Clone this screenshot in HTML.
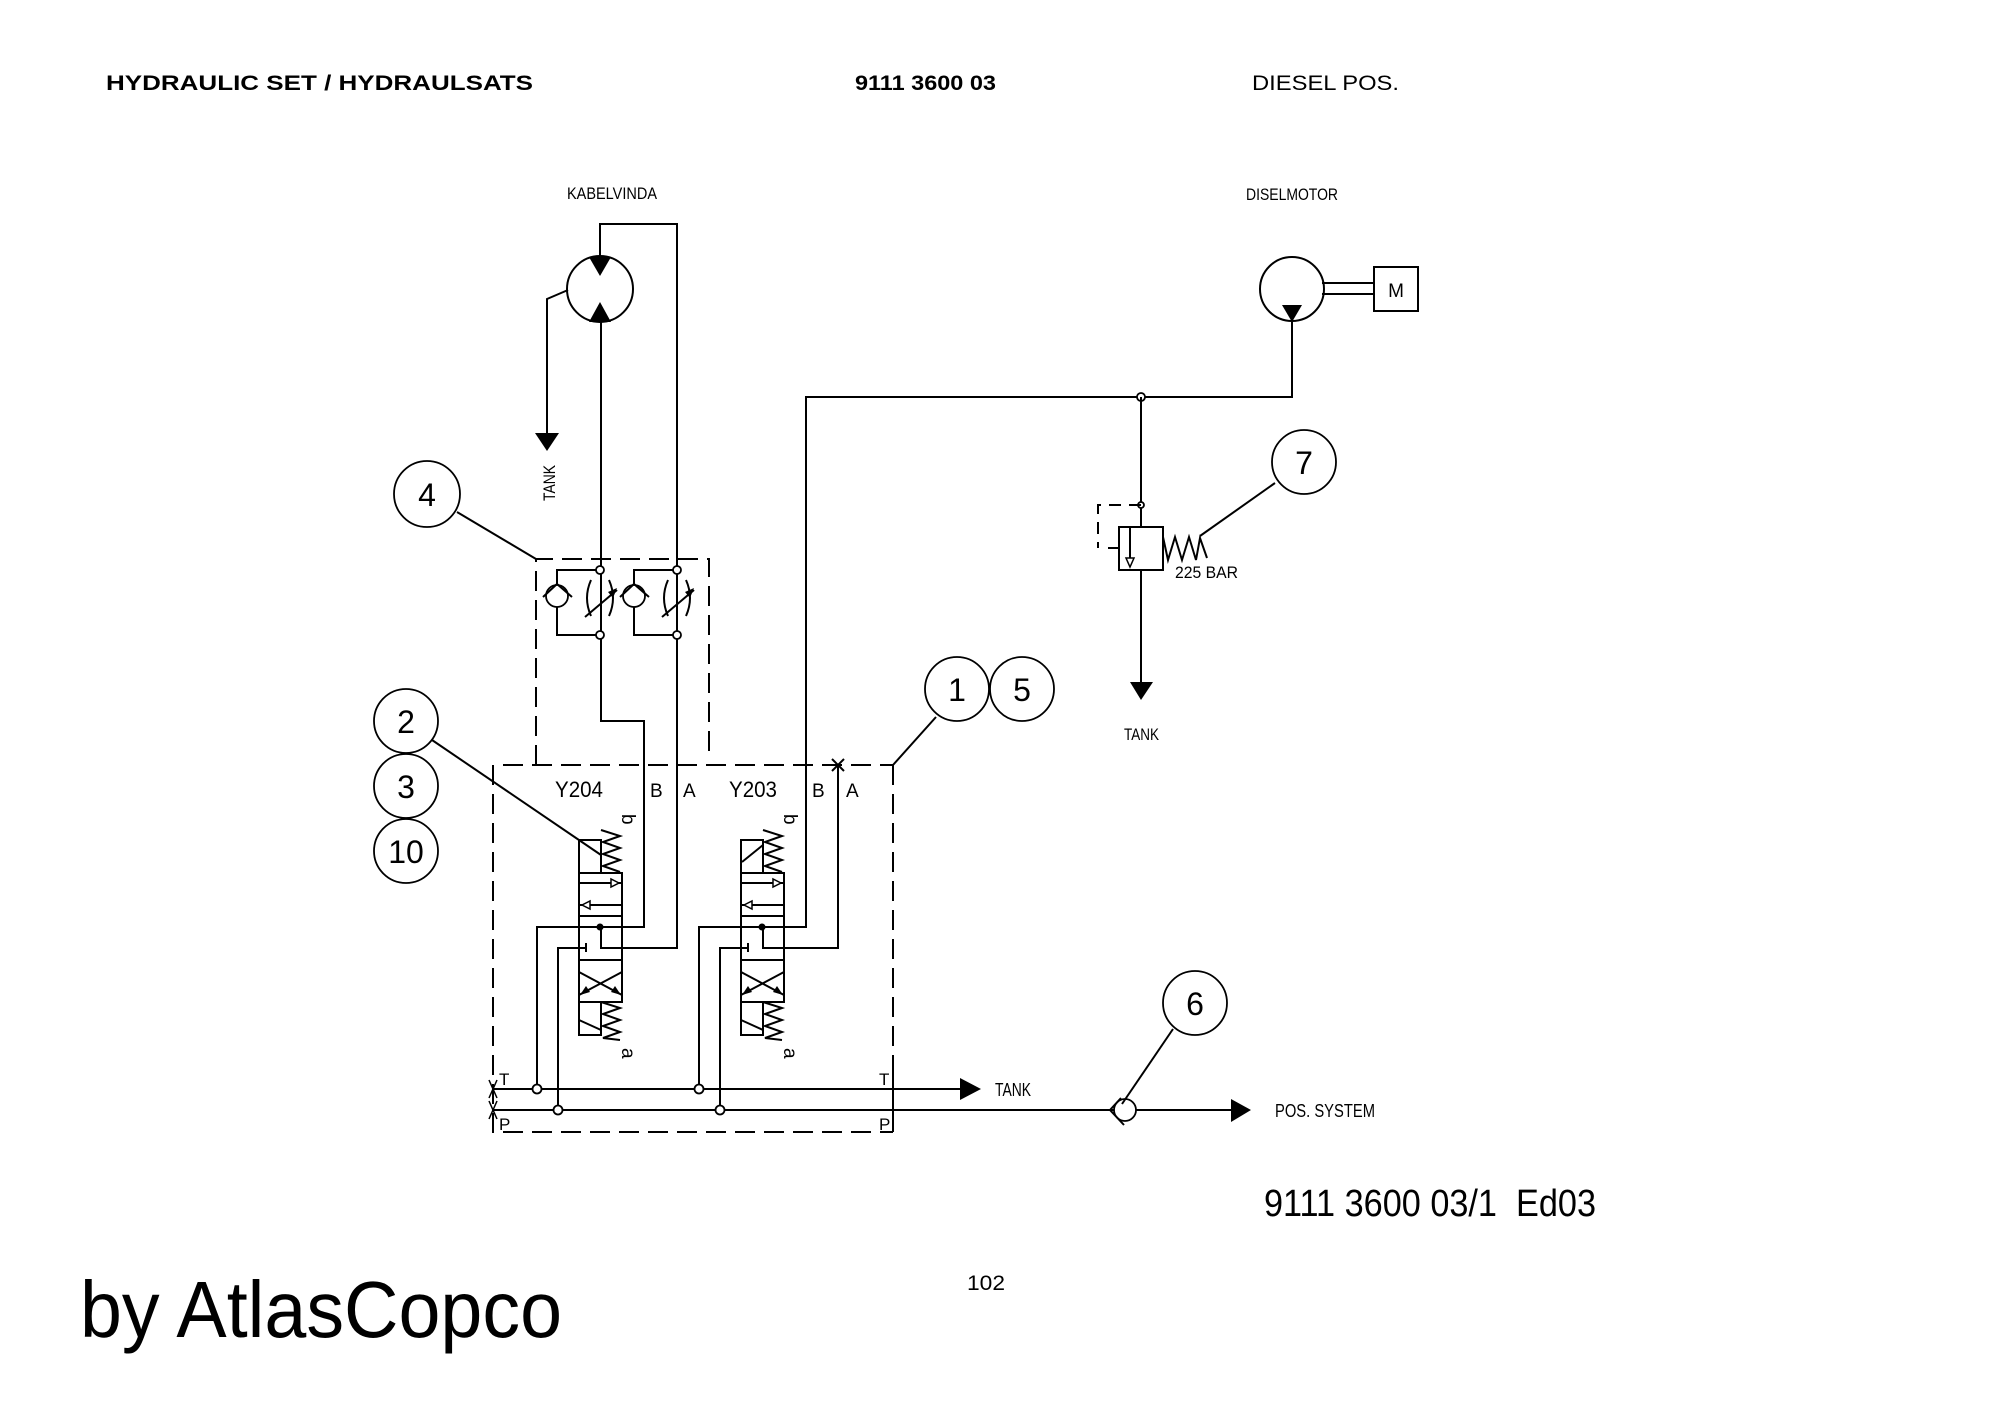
<!DOCTYPE html>
<html><head><meta charset="utf-8"><style>
html,body{margin:0;padding:0;background:#fff;}
svg{display:block;}
.l{fill:none;stroke:#000;stroke-width:2;}
.d{fill:none;stroke:#000;stroke-width:2;stroke-dasharray:20 9;}
.c{fill:#fff;stroke:#000;stroke-width:1.8;}
.t{font-family:"Liberation Sans Narrow","Liberation Sans",sans-serif;fill:#000;}
.h{font-family:"Liberation Sans",sans-serif;fill:#000;}
</style></head><body>
<svg width="2000" height="1415" viewBox="0 0 2000 1415" xmlns="http://www.w3.org/2000/svg">
<!-- Header -->
<text class="h" x="106" y="90" font-size="21" font-weight="bold" textLength="427" lengthAdjust="spacingAndGlyphs">HYDRAULIC SET / HYDRAULSATS</text>
<text class="h" x="855" y="90" font-size="21" font-weight="bold" textLength="141" lengthAdjust="spacingAndGlyphs">9111 3600 03</text>
<text class="h" x="1252" y="90" font-size="21" textLength="147" lengthAdjust="spacingAndGlyphs">DIESEL POS.</text>

<!-- KABELVINDA motor -->
<text class="t" x="567" y="199" font-size="17" textLength="90" lengthAdjust="spacingAndGlyphs">KABELVINDA</text>
<circle class="l" cx="600" cy="289" r="33"/>
<polygon points="589,257 611,257 600,276" fill="#000"/>
<polygon points="589,322 611,322 600,302" fill="#000"/>
<polyline class="l" points="600,257 600,224 677,224 677,948 601,948 601,927"/>
<polyline class="l" points="568,290 547,299 547,434"/>
<polygon points="535,433 559,433 547,451" fill="#000"/>
<text class="t" transform="translate(555,501) rotate(-90)" font-size="17" textLength="36" lengthAdjust="spacingAndGlyphs">TANK</text>

<!-- circle 4 -->
<circle class="c" cx="427" cy="494" r="33"/>
<text class="t" x="427" y="506" font-size="32" text-anchor="middle">4</text>
<line class="l" x1="457" y1="512" x2="536" y2="559"/>
<!-- box 4 -->
<polyline class="d" points="536,765 536,559 709,559 709,753"/>
<!-- check valves & throttles -->
<g>
<polyline class="l" points="600,570 557,570 557,635 600,635"/>
<circle class="c" cx="557" cy="596" r="11"/>
<polyline class="l" points="543,597 557,584 572,597"/>
<path class="l" d="M591,580 Q583,598 591,616"/>
<path class="l" d="M609,580 Q617,598 609,616"/>
<line class="l" x1="585" y1="617" x2="617" y2="590"/>
<polygon points="617,588 608,592 613,598" fill="#000"/>
</g>
<g transform="translate(77,0)">
<polyline class="l" points="600,570 557,570 557,635 600,635"/>
<circle class="c" cx="557" cy="596" r="11"/>
<polyline class="l" points="543,597 557,584 572,597"/>
<path class="l" d="M591,580 Q583,598 591,616"/>
<path class="l" d="M609,580 Q617,598 609,616"/>
<line class="l" x1="585" y1="617" x2="617" y2="590"/>
<polygon points="617,588 608,592 613,598" fill="#000"/>
</g>
<!-- B line Y204 -->
<polyline class="l" points="601,322 601,721 644,721 644,927 537,927 537,1088"/>
<circle class="c" cx="600" cy="570" r="4"/><circle class="c" cx="600" cy="635" r="4"/>
<circle class="c" cx="677" cy="570" r="4"/><circle class="c" cx="677" cy="635" r="4"/>

<!-- main box 1/5 -->
<polyline class="d" points="503,765 893,765"/>
<polyline class="d" points="493,765 493,1132 893,1132"/>
<line class="d" x1="893" y1="765" x2="893" y2="1132"/>
<line class="l" x1="893" y1="765" x2="936" y2="717"/>
<line class="l" x1="893" y1="1070" x2="893" y2="1132"/>
<circle class="c" cx="957" cy="689" r="32"/>
<text class="t" x="957" y="701" font-size="32" text-anchor="middle">1</text>
<circle class="c" cx="1022" cy="689" r="32"/>
<text class="t" x="1022" y="701" font-size="32" text-anchor="middle">5</text>

<!-- circles 2 3 10 -->
<circle class="c" cx="406" cy="721" r="32"/>
<text class="t" x="406" y="733" font-size="32" text-anchor="middle">2</text>
<circle class="c" cx="406" cy="786" r="32"/>
<text class="t" x="406" y="798" font-size="32" text-anchor="middle">3</text>
<circle class="c" cx="406" cy="851" r="32"/>
<text class="t" x="406" y="863" font-size="32" text-anchor="middle">10</text>
<line class="l" x1="432" y1="740" x2="601" y2="855"/>

<!-- labels -->
<text class="t" x="555" y="797" font-size="22" textLength="48" lengthAdjust="spacingAndGlyphs">Y204</text>
<text class="t" x="650" y="797" font-size="19">B</text>
<text class="t" x="683" y="797" font-size="19">A</text>
<text class="t" x="729" y="797" font-size="22" textLength="48" lengthAdjust="spacingAndGlyphs">Y203</text>
<text class="t" x="812" y="797" font-size="19">B</text>
<text class="t" x="846" y="797" font-size="19">A</text>

<!-- valves -->
<g id="v">
<rect class="l" x="579" y="840" width="22" height="33"/>
<polyline class="l" points="601,830 620,836 603,842 620,848 603,854 620,860 603,866 620,872"/>
<rect class="l" x="579" y="873" width="43" height="129"/>
<line class="l" x1="579" y1="883" x2="622" y2="883"/>
<polygon points="619,883 611,879 611,887" fill="#fff" stroke="#000" stroke-width="1.5"/>
<line class="l" x1="579" y1="905" x2="622" y2="905"/>
<polygon points="582,905 590,901 590,909" fill="#fff" stroke="#000" stroke-width="1.5"/>
<line class="l" x1="579" y1="916" x2="622" y2="916"/>
<line class="l" x1="579" y1="960" x2="622" y2="960"/>
<line class="l" x1="579" y1="972" x2="622" y2="995"/>
<line class="l" x1="622" y1="972" x2="579" y2="995"/>
<polygon points="580,995 586,986 590,992" fill="#000"/>
<polygon points="621,995 615,986 611,992" fill="#000"/>
<circle cx="600" cy="927" r="3.5" fill="#000"/>
<line class="l" x1="586" y1="943" x2="586" y2="952"/>
<rect class="l" x="579" y="1002" width="22" height="33"/>
<line class="l" x1="579" y1="1020" x2="601" y2="1030"/>
<polyline class="l" points="601,1002 620,1008 603,1014 620,1020 603,1026 620,1032 603,1038 620,1040"/>
<text class="t" transform="translate(622,814) rotate(90)" font-size="19">b</text>
<text class="t" transform="translate(622,1048) rotate(90)" font-size="19">a</text>
</g>
<use href="#v" transform="translate(162,0)"/>
<line class="l" x1="742" y1="862" x2="763" y2="845"/>

<!-- Y204 P -->
<polyline class="l" points="558,1111 558,948 586,948"/>
<!-- Y203 -->
<polyline class="l" points="1292,322 1292,397 806,397 806,927 699,927 699,1088"/>
<polyline class="l" points="838,765 838,948 763,948 763,927"/>
<polyline class="l" points="720,1111 720,948 748,948"/>
<line class="l" x1="832" y1="759" x2="844" y2="771"/><line class="l" x1="844" y1="759" x2="832" y2="771"/>

<!-- T / P lines -->
<line class="l" x1="493" y1="1089" x2="962" y2="1089"/>
<polygon points="960,1078 981,1089 960,1100" fill="#000"/>
<text class="t" x="995" y="1096" font-size="18" textLength="36" lengthAdjust="spacingAndGlyphs">TANK</text>
<line class="l" x1="493" y1="1110" x2="1114" y2="1110"/>
<circle class="c" cx="1125" cy="1110" r="11"/>
<polyline class="l" points="1121,1098 1110,1110 1124,1125"/>
<line class="l" x1="1136" y1="1110" x2="1233" y2="1110"/>
<polygon points="1231,1099 1251,1110 1231,1122" fill="#000"/>
<text class="t" x="1275" y="1117" font-size="18" textLength="100" lengthAdjust="spacingAndGlyphs">POS. SYSTEM</text>
<circle class="c" cx="1195" cy="1003" r="32"/>
<text class="t" x="1195" y="1015" font-size="32" text-anchor="middle">6</text>
<line class="l" x1="1173" y1="1029" x2="1122" y2="1104"/>
<text class="t" x="499" y="1085" font-size="17">T</text>
<text class="t" x="499" y="1130" font-size="17">P</text>
<text class="t" x="879" y="1085" font-size="17">T</text>
<text class="t" x="879" y="1130" font-size="17">P</text>
<polyline class="l" points="489,1080 493,1089 497,1080" style="stroke-width:1.5"/>
<polyline class="l" points="489,1119 493,1110 497,1119" style="stroke-width:1.5"/>
<polyline class="l" points="489,1098 493,1089 497,1098" style="stroke-width:1.5"/>
<polyline class="l" points="489,1101 493,1110 497,1101" style="stroke-width:1.5"/>
<circle class="c" cx="537" cy="1089" r="4.5"/>
<circle class="c" cx="699" cy="1089" r="4.5"/>
<circle class="c" cx="558" cy="1110" r="4.5"/>
<circle class="c" cx="720" cy="1110" r="4.5"/>

<!-- Diesel motor -->
<text class="t" x="1246" y="200" font-size="17" textLength="92" lengthAdjust="spacingAndGlyphs">DISELMOTOR</text>
<circle class="l" cx="1292" cy="289" r="32"/>
<polygon points="1282,305 1302,305 1292,322" fill="#000"/>
<line class="l" x1="1322" y1="283" x2="1374" y2="283"/>
<line class="l" x1="1322" y1="294" x2="1374" y2="294"/>
<rect class="l" x="1374" y="267" width="44" height="44"/>
<text class="t" x="1396" y="297" font-size="19" text-anchor="middle">M</text>
<circle class="c" cx="1141" cy="397" r="4"/>

<!-- relief valve -->
<line class="l" x1="1141" y1="397" x2="1141" y2="527"/>
<circle class="c" cx="1141" cy="505" r="3"/>
<polyline class="d" points="1141,505 1098,505 1098,548" style="stroke-dasharray:12 8"/>
<line class="l" x1="1108" y1="548" x2="1119" y2="548"/>
<rect class="l" x="1119" y="527" width="44" height="43"/>
<line class="l" x1="1130" y1="527" x2="1130" y2="566"/>
<polygon points="1126,558 1134,558 1130,567" fill="#fff" stroke="#000" stroke-width="1.5"/>
<polyline class="l" points="1163,537 1168,560 1175,537 1182,560 1189,537 1196,560 1200,538 1207,558"/>
<line class="l" x1="1200" y1="536" x2="1275" y2="483"/>
<text class="t" x="1175" y="578" font-size="17" textLength="63" lengthAdjust="spacingAndGlyphs">225 BAR</text>
<line class="l" x1="1141" y1="570" x2="1141" y2="684"/>
<polygon points="1130,682 1153,682 1141,700" fill="#000"/>
<text class="t" x="1124" y="740" font-size="17" textLength="35" lengthAdjust="spacingAndGlyphs">TANK</text>
<circle class="c" cx="1304" cy="462" r="32"/>
<text class="t" x="1304" y="474" font-size="32" text-anchor="middle">7</text>

<!-- footer -->
<text class="h" x="1264" y="1216" font-size="38" textLength="332" lengthAdjust="spacingAndGlyphs" xml:space="preserve">9111 3600 03/1&#160; Ed03</text>
<text class="h" x="967" y="1290" font-size="21" textLength="38" lengthAdjust="spacingAndGlyphs">102</text>
<text class="h" x="80" y="1337" font-size="80" textLength="482" lengthAdjust="spacingAndGlyphs">by AtlasCopco</text>
</svg>
</body></html>
